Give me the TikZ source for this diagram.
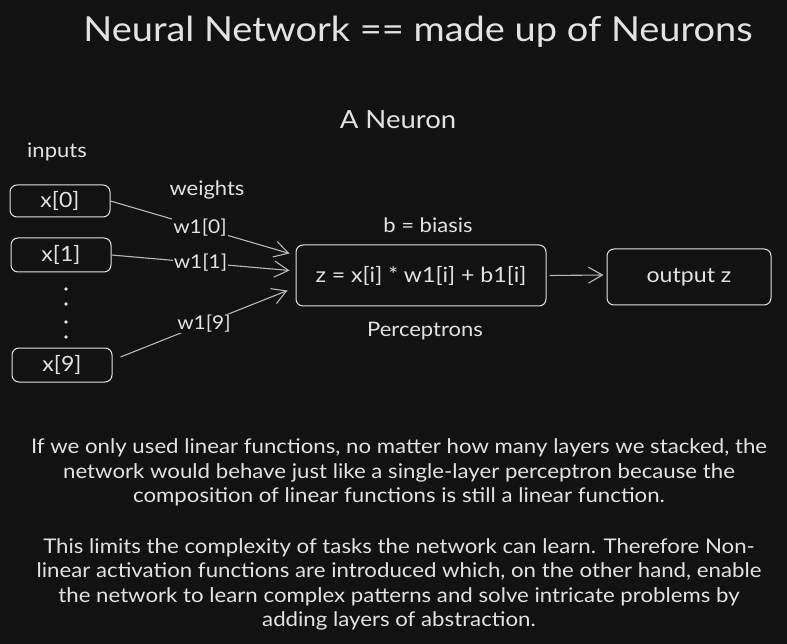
\documentclass[tikz,border=0pt]{standalone}
\usepackage{fontspec}
\setmainfont{Lato}[FakeStretch=1.1]
\usetikzlibrary{arrows.meta}
\definecolor{bg}{HTML}{121212}
\definecolor{fg}{HTML}{E2E2E2}
\definecolor{ln}{HTML}{B8B8B8}
\begin{document}
\begin{tikzpicture}[x=1pt,y=-1pt,
  box/.style={draw=fg, line width=1pt, rounded corners=7pt, text=fg, inner sep=0pt,
    font=\fontsize{21}{25}\selectfont},
  lbl/.style={text=fg, inner sep=1pt, font=\fontsize{20}{24}\selectfont},
  wlbl/.style={text=fg, fill=bg, inner sep=1pt, font=\fontsize{19}{23}\selectfont},
  conn/.style={draw=ln, line width=1.1pt, -{Straight Barb[length=14pt,width=16pt,line width=1.1pt]}},
  para/.style={text=fg, align=center, inner sep=0pt, font=\fontsize{20.2}{24.5}\selectfont}]
\fill[bg] (0,0) rectangle (787,644);
\useasboundingbox (0,0) rectangle (787,644);

\node[text=fg, font=\fontsize{34.5}{40}\selectfont] (title) at (418,32) {Neural Network == made up of Neurons};
\node[text=fg, font=\fontsize{25}{30}\selectfont] (neuron) at (398,120) {A Neuron};
\node[lbl] (inputs) at (57,152) {inputs};
\node[lbl] (weights) at (207,190) {weights};

\node[box, minimum width=100pt, minimum height=32pt] (x0) at (60,201) {x[0]};
\node[box, minimum width=100pt, minimum height=34pt] (x1) at (61,255) {x[1]};
\node[box, minimum width=100pt, minimum height=34pt] (x9) at (62,365) {x[9]};

\foreach \yy/\nm in {289/d1,304/d2,322/d3,337/d4}
  \fill[fg] (66,\yy) circle (1.8pt) coordinate (\nm);

\node[box, minimum width=250pt, minimum height=61pt] (P) at (421,275.5) {z = x[i] * w1[i] + b1[i]};
\node[box, minimum width=164pt, minimum height=56pt] (O) at (689,277) {output z};
\node[lbl] (bias) at (428,225) {b = biasis};
\node[lbl] (perc) at (425,331) {Perceptrons};

\draw[conn] (x0.east) -- node[wlbl, pos=0.5] {w1[0]} ([xshift=-6pt,yshift=22pt]P.west);
\draw[conn] (x1.east) -- node[wlbl, pos=0.5] {w1[1]} ([xshift=-6pt,yshift=5pt]P.west);
\draw[conn] ([xshift=8pt,yshift=8pt]x9.east) -- node[wlbl, pos=0.5] {w1[9]} ([xshift=-8pt,yshift=-15pt]P.west);
\draw[conn] ([xshift=3pt]P.east) -- ([xshift=-3pt,yshift=2pt]O.west);

\node[para] (p1) at (399,472.5) {If we only used linear functions, no matter how many layers we stacked, the\\
network would behave just like a single-layer perceptron because the\\
composition of linear functions is still a linear function.};
\node[para] (p2) at (399,584.5) {This limits the complexity of tasks the network can learn. Therefore Non-\\
linear activation functions are introduced which, on the other hand, enable\\
the network to learn complex patterns and solve intricate problems by\\
adding layers of abstraction.};
\end{tikzpicture}
\end{document}
